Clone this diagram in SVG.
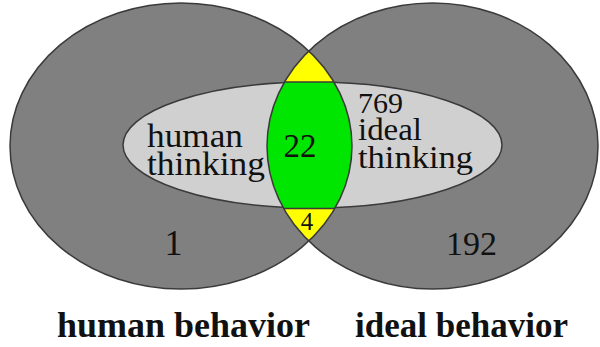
<svg xmlns="http://www.w3.org/2000/svg" width="600" height="347" viewBox="0 0 600 347">
  <style>
    .t { font-family: "Liberation Serif", "Times New Roman", serif; fill: #111; }
    .b { font-family: "Liberation Serif", "Times New Roman", serif; font-weight: bold; fill: #111; font-size: 35px; }
    .outline { fill: none; stroke: #3a3a3a; stroke-width: 1.5; }
  </style>
  <defs>
    <clipPath id="clipLeft">
      <ellipse cx="181" cy="146" rx="171" ry="143"/>
    </clipPath>
    <clipPath id="clipLens" clip-path="url(#clipLeft)">
      <ellipse cx="432.5" cy="146" rx="165.5" ry="143"/>
    </clipPath>
  </defs>
  <rect width="600" height="347" fill="#ffffff"/>

  <g id="human-behavior">
    <ellipse cx="181" cy="146" rx="171" ry="143" fill="#808080"/>
  </g>
  <g id="ideal-behavior">
    <ellipse cx="432.5" cy="146" rx="165.5" ry="143" fill="#808080"/>
  </g>
  <g id="thinking">
    <ellipse cx="312.5" cy="145" rx="189.5" ry="63" fill="#d0d0d0" stroke="#3a3a3a" stroke-width="1.5"/>
  </g>
  <g id="overlap">
    <g clip-path="url(#clipLens)">
      <rect x="250" y="0" width="120" height="300" fill="#ffff00"/>
      <rect x="250" y="82" width="120" height="126.5" fill="#00e600"/>
      <line x1="250" y1="82" x2="370" y2="82" stroke="#3a3a3a" stroke-width="1.5"/>
      <line x1="250" y1="208.5" x2="370" y2="208.5" stroke="#3a3a3a" stroke-width="1.5"/>
    </g>
  </g>
  <g id="outlines">
    <ellipse class="outline" cx="181" cy="146" rx="171" ry="143"/>
    <ellipse class="outline" cx="432.5" cy="146" rx="165.5" ry="143"/>
  </g>

  <g id="labels">
    <text class="t" font-size="33" x="147" y="147" textLength="96" lengthAdjust="spacingAndGlyphs">human</text>
    <text class="t" font-size="33" x="147" y="175" textLength="118" lengthAdjust="spacingAndGlyphs">thinking</text>
    <text class="t" font-size="33" x="300" y="157" text-anchor="middle">22</text>
    <text class="t" font-size="30" x="358" y="113" textLength="45" lengthAdjust="spacingAndGlyphs">769</text>
    <text class="t" font-size="32" x="358" y="140" textLength="64" lengthAdjust="spacingAndGlyphs">ideal</text>
    <text class="t" font-size="32" x="358" y="168" textLength="115" lengthAdjust="spacingAndGlyphs">thinking</text>
    <text class="t" font-size="25" x="307" y="230" text-anchor="middle">4</text>
    <text class="t" font-size="36" x="173.5" y="255" text-anchor="middle">1</text>
    <text class="t" font-size="34" x="471.5" y="255" text-anchor="middle">192</text>
    <text class="b" x="57" y="337" textLength="253" lengthAdjust="spacingAndGlyphs">human behavior</text>
    <text class="b" x="355" y="337" textLength="213" lengthAdjust="spacingAndGlyphs">ideal behavior</text>
  </g>
</svg>
